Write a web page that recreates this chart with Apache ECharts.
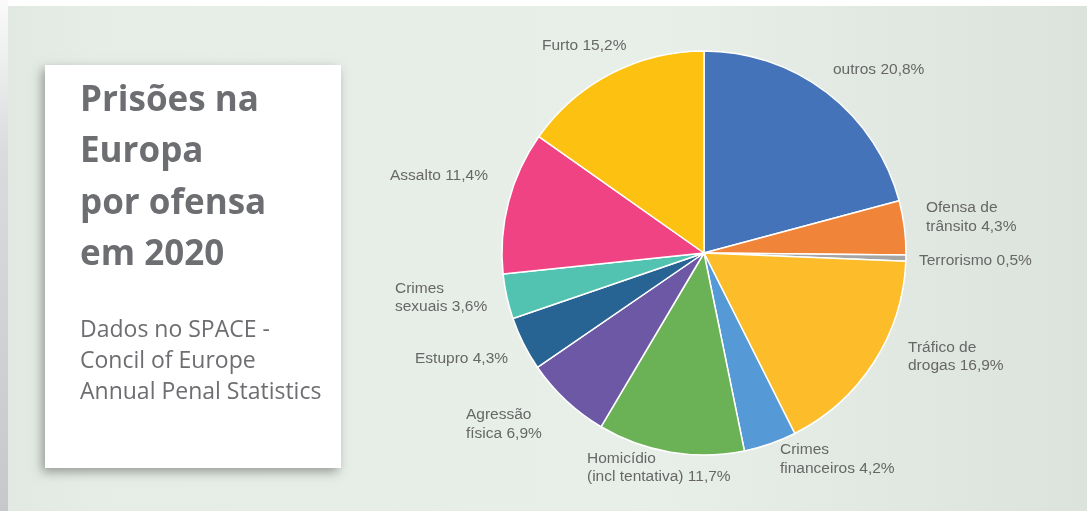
<!DOCTYPE html>
<html>
<head>
<meta charset="utf-8">
<script src="https://cdn.jsdelivr.net/npm/echarts@6/dist/echarts.min.js"></script>
<style>
html,body{margin:0;padding:0;background:#fff;}
#chart{width:1087px;height:511px;}
</style>
</head>
<body>
<div id="chart"></div>
<script>
// ---- data ----
const categories = ['outros', 'Ofensa de\ntrânsito', 'Terrorismo', 'Tráfico de\ndrogas', 'Crimes\nfinanceiros',
  'Homicídio\n(incl tentativa)', 'Agressão\nfísica', 'Estupro', 'Crimes\nsexuais', 'Assalto', 'Furto'];
const values = [20.8, 4.3, 0.5, 16.9, 4.2, 11.7, 6.9, 4.3, 3.6, 11.4, 15.2];
const titleLines = ['Prisões na', 'Europa', 'por ofensa', 'em 2020'];
const subtitleLines = ['Dados no SPACE -', 'Concil of Europe', 'Annual Penal Statistics'];

// ---- styling / layout (not data) ----
const colors = ['#4573B9', '#F08439', '#A5A5A5', '#FDBD2B', '#5599D6', '#6BB156',
  '#6D58A6', '#276494', '#53C3B1', '#EF4383', '#FDC112'];
// label anchor (left edge, vertical middle) per slice
const labelPos = [[833, 70], [926, 217], [919, 261], [908, 356.5], [780, 459], [587, 467.5],
  [466, 424], [415, 359], [395, 297.5], [390, 176], [542, 46]];

const chart = echarts.init(document.getElementById('chart'), null, {renderer: 'canvas'});

const graphics = [
  {type: 'rect', shape: {x: 0, y: 0, width: 8, height: 511}, silent: true, z: -10,
    style: {fill: new echarts.graphic.LinearGradient(0, 0, 0, 1, [
      {offset: 0, color: '#FAFAFA'}, {offset: 0.3, color: '#DADBDD'}, {offset: 1, color: '#C7C8CC'}])}},
  {type: 'rect', shape: {x: 8, y: 6, width: 1079, height: 505}, silent: true, z: -9,
    style: {fill: new echarts.graphic.LinearGradient(0, 0, 1, 0, [
      {offset: 0, color: '#E2E9E3'}, {offset: 0.08, color: '#E6EDE7'}, {offset: 0.6, color: '#E8EFE9'}, {offset: 1, color: '#DCE3DD'}])}},
  {type: 'rect', shape: {x: 45, y: 65, width: 296, height: 403}, silent: true, z: -8,
    style: {fill: '#FFFFFF', shadowBlur: 10, shadowColor: 'rgba(0,0,0,0.35)', shadowOffsetX: -3, shadowOffsetY: 4}}
];
titleLines.forEach((t, i) => {
  graphics.push({type: 'text', x: 80, y: 101 + i * 51.3, silent: true, z: 5,
    style: {text: t, fill: '#6D6E71', font: 'bold 35px "Open Sans"', verticalAlign: 'middle', align: 'left'}});
});
subtitleLines.forEach((t, i) => {
  graphics.push({type: 'text', x: 80, y: 330 + i * 31, silent: true, z: 5,
    style: {text: t, fill: '#6D6E71', font: '23px "Open Sans"', verticalAlign: 'middle', align: 'left'}});
});

const fmt = v => v.toFixed(1).replace('.', ',');

chart.setOption({
  animation: false,
  graphic: graphics,
  series: [{
    type: 'pie',
    center: [704, 253],
    radius: 202,
    startAngle: 90,
    clockwise: true,
    avoidLabelOverlap: false,
    itemStyle: {borderColor: '#FFFFFF', borderWidth: 1.5},
    label: {
      show: true,
      position: 'outside',
      formatter: p => p.name + ' ' + fmt(p.value) + '%',
      fontFamily: 'Liberation Sans',
      fontSize: 15.5,
      lineHeight: 18.5,
      color: '#676767'
    },
    labelLine: {show: false},
    labelLayout: params => {
      const p = labelPos[params.dataIndex];
      return {x: p[0], y: p[1], align: 'left', verticalAlign: 'middle'};
    },
    data: categories.map((c, i) => ({name: c, value: values[i], itemStyle: {color: colors[i]}}))
  }]
});
</script>
</body>
</html>
